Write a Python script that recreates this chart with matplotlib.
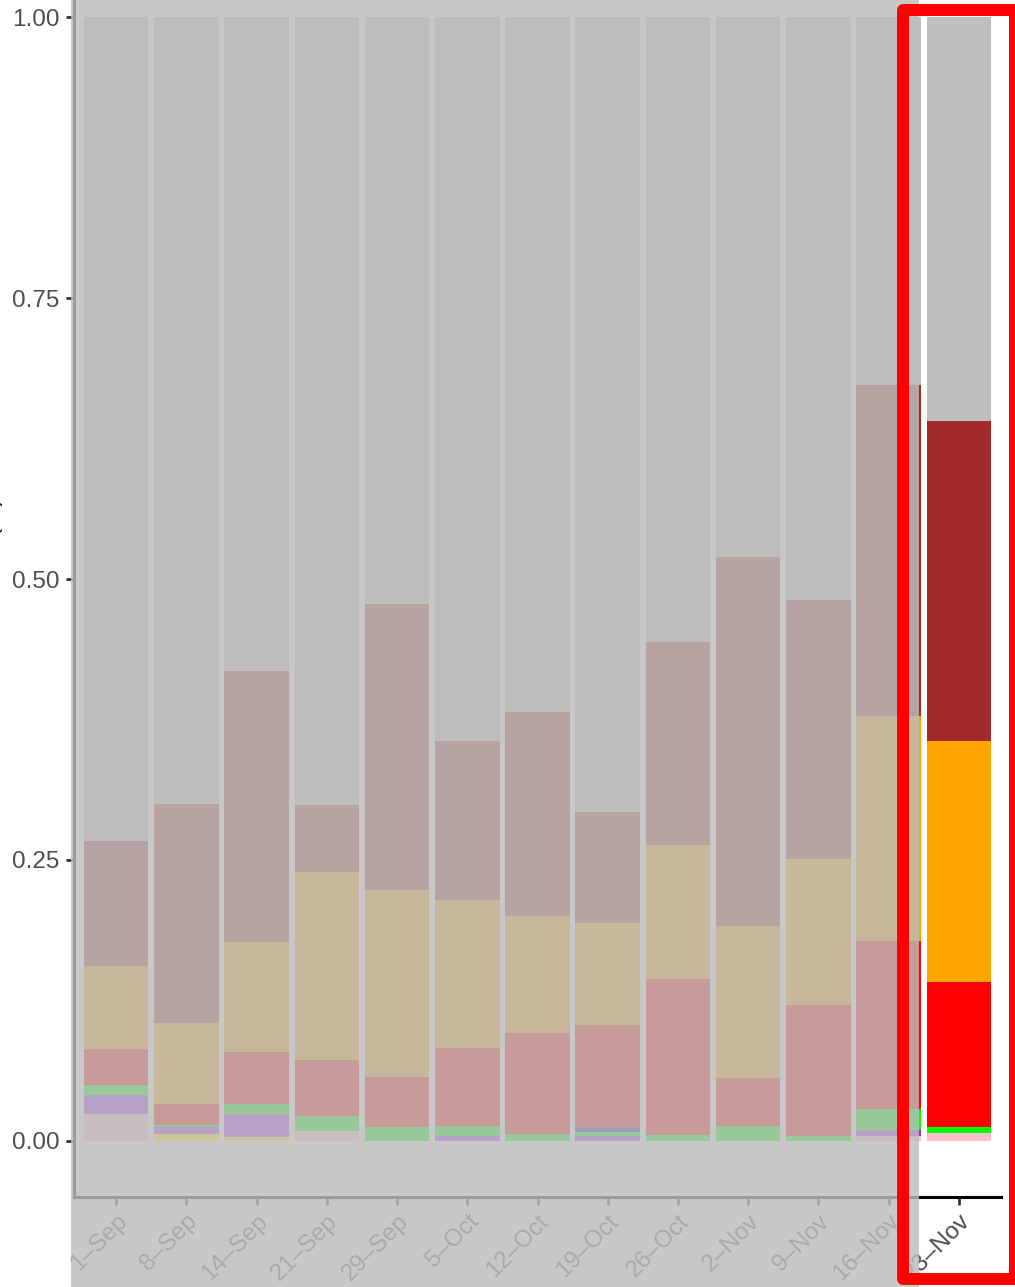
import matplotlib.pyplot as plt
import matplotlib.patches as mpatches
import numpy as np

plt.rcParams['font.family'] = ['Liberation Sans', 'DejaVu Sans']

weeks = ['1–Sep', '8–Sep', '14–Sep', '21–Sep', '29–Sep', '5–Oct', '12–Oct',
         '19–Oct', '26–Oct', '2–Nov', '9–Nov', '16–Nov', '23–Nov']

# share of each group per week, stacked bottom -> top
pink   = [0.024, 0.000, 0.000, 0.009, 0.000, 0.000, 0.000, 0.000, 0.000, 0.000, 0.000, 0.004, 0.007]
yellow = [0.000, 0.006, 0.003, 0.000, 0.000, 0.000, 0.000, 0.000, 0.000, 0.000, 0.000, 0.000, 0.000]
purple = [0.017, 0.006, 0.021, 0.000, 0.000, 0.004, 0.000, 0.004, 0.000, 0.000, 0.000, 0.006, 0.000]
green  = [0.009, 0.002, 0.009, 0.013, 0.012, 0.009, 0.006, 0.004, 0.005, 0.013, 0.004, 0.018, 0.005]
blue   = [0.000, 0.000, 0.000, 0.000, 0.000, 0.000, 0.000, 0.003, 0.000, 0.000, 0.000, 0.000, 0.000]
red    = [0.032, 0.019, 0.046, 0.050, 0.045, 0.070, 0.090, 0.092, 0.139, 0.043, 0.117, 0.150, 0.129]
orange = [0.074, 0.072, 0.098, 0.167, 0.166, 0.131, 0.104, 0.091, 0.119, 0.135, 0.130, 0.200, 0.215]
brown  = [0.111, 0.195, 0.241, 0.060, 0.255, 0.142, 0.182, 0.099, 0.181, 0.329, 0.230, 0.295, 0.285]
grey   = [0.733, 0.700, 0.582, 0.701, 0.522, 0.644, 0.618, 0.707, 0.556, 0.480, 0.519, 0.327, 0.359]

series = [(pink, '#FFC0CB'), (yellow, '#FFFF00'), (purple, '#A020F0'),
          (green, '#00FF00'), (blue, '#0000FF'), (red, '#FF0000'),
          (orange, '#FFA500'), (brown, '#A52A2A'), (grey, '#BEBEBE')]

W, H = 1015, 1287
fig = plt.figure(figsize=(W / 100, H / 100), dpi=100)
ax = fig.add_axes([74 / W, (H - 1197) / H, 927 / W, 1236 / H])

x = np.arange(1, len(weeks) + 1)
bottom = np.zeros(len(weeks))
for vals, col in series:
    vals = np.array(vals)
    ax.bar(x, vals, width=0.92, bottom=bottom, color=col, linewidth=0)
    bottom += vals

ax.set_xlim(0.4, 13.6)
ax.set_ylim(-0.05, 1.05)
ax.set_yticks([0, 0.25, 0.5, 0.75, 1.0])
ax.set_yticklabels(['0.00', '0.25', '0.50', '0.75', '1.00'])
ax.set_xticks(x)
ax.set_xticklabels(weeks, rotation=45, ha='right', va='top', rotation_mode='anchor')

for s in ['top', 'right']:
    ax.spines[s].set_visible(False)
for s in ['left', 'bottom']:
    ax.spines[s].set_linewidth(2.2)
    ax.spines[s].set_color('black')
ax.tick_params(axis='both', length=5.5, width=2, color='#333333',
               labelsize=17.5, labelcolor='#4D4D4D', pad=5)
ax.tick_params(axis='x', pad=4)

fig.text(3 / W, 1 - 497 / H, 'Relative abundance (%)', rotation=90, ha='right', va='top',
         fontsize=18, color='#1A1A1A')

# dim everything except the last week
fig.patches.append(mpatches.Rectangle((71 / W, 0), (919 - 71) / W, 1,
                                      transform=fig.transFigure, facecolor='#BDBDBD',
                                      alpha=0.827, edgecolor='none', zorder=10))
# frame around the last week
fig.patches.append(mpatches.Rectangle((903 / W, 1 - 1279 / H), 112 / W, 1269 / H,
                                      transform=fig.transFigure, facecolor='none',
                                      edgecolor='#FF0000', linewidth=8.6,
                                      joinstyle='round', zorder=11))

fig.savefig('out.png', dpi=100)
